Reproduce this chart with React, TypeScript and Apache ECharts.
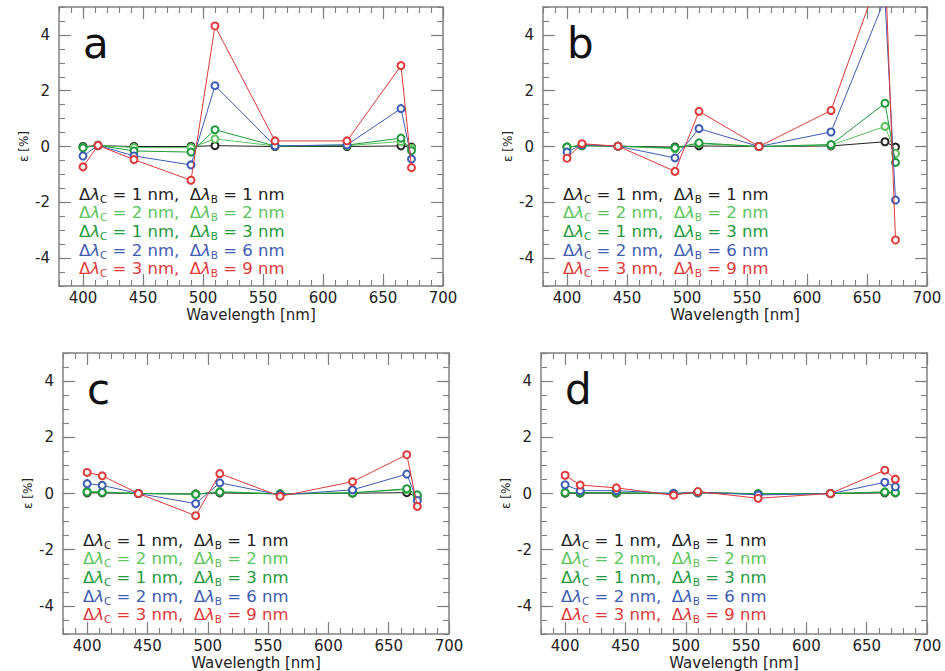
import React, { useEffect, useRef } from "react";
import * as echarts from "echarts";

const WAVELENGTHS = [400, 412.5, 442.5, 490, 510, 560, 620, 665, 673.75];
const X_MAJOR = [400, 450, 500, 550, 600, 650, 700];
const Y_MAJOR = [-4, -2, 0, 2, 4];
const PANEL_LETTERS = ["a", "b", "c", "d"];
const DELTA_C = [1, 2, 1, 2, 3];
const DELTA_B = [1, 2, 3, 6, 9];
const SERIES_COLORS = ["#222222", "#5cc45c", "#1f9a3c", "#3e5cb2", "#e03a3a"];

// panel a
const A_BLACK = [0, 0.03, 0, 0, 0.03, 0, 0, 0.02, -0.02];
const A_LGREEN = [-0.03, 0.04, -0.04, -0.04, 0.27, 0.02, 0.03, 0.18, -0.06];
const A_DGREEN = [-0.05, 0.04, -0.16, -0.2, 0.6, 0.02, 0.05, 0.3, -0.15];
const A_BLUE = [-0.34, 0.04, -0.34, -0.66, 2.18, 0.02, 0.06, 1.36, -0.45];
const A_RED = [-0.73, 0.04, -0.47, -1.21, 4.32, 0.2, 0.2, 2.9, -0.76];

// panel b
const B_BLACK = [-0.02, 0.03, 0.01, -0.02, 0.02, 0, 0.02, 0.17, -0.02];
const B_LGREEN = [-0.02, 0.04, 0.01, -0.08, 0.1, 0, 0.05, 0.72, -0.25];
const B_DGREEN = [-0.02, 0.03, 0.01, -0.05, 0.13, 0, 0.07, 1.55, -0.57];
const B_BLUE = [-0.2, 0.07, 0.01, -0.41, 0.64, 0, 0.52, 5.3, -1.92];
const B_RED = [-0.42, 0.1, 0.01, -0.89, 1.26, 0, 1.29, 6.7, -3.35];

// panel c
const C_BLACK = [0.02, 0.02, 0, -0.01, 0.02, -0.01, 0.01, 0.03, -0.12];
const C_LGREEN = [0.08, 0.06, 0, -0.02, 0.07, -0.01, 0.03, 0.14, -0.1];
const C_DGREEN = [0.05, 0.04, 0, -0.03, 0.05, -0.02, 0.02, 0.17, -0.05];
const C_BLUE = [0.35, 0.29, 0, -0.36, 0.38, -0.05, 0.13, 0.69, -0.25];
const C_RED = [0.75, 0.63, 0, -0.79, 0.71, -0.1, 0.42, 1.38, -0.46];

// panel d
const D_BLACK = [0.01, 0.01, 0.01, -0.01, 0.02, -0.01, 0, 0.02, 0.02];
const D_LGREEN = [0.04, 0.03, 0.03, -0.01, 0.04, -0.02, 0, 0.06, 0.04];
const D_DGREEN = [0.03, 0.03, 0.03, 0, 0.04, -0.01, 0, 0.05, 0.04];
const D_BLUE = [0.31, 0.1, 0.1, 0, 0.05, -0.05, -0.01, 0.4, 0.24];
const D_RED = [0.65, 0.3, 0.2, -0.06, 0.07, -0.17, 0, 0.83, 0.51];

const PANEL_DATA = [
  [A_BLACK, A_LGREEN, A_DGREEN, A_BLUE, A_RED],
  [B_BLACK, B_LGREEN, B_DGREEN, B_BLUE, B_RED],
  [C_BLACK, C_LGREEN, C_DGREEN, C_BLUE, C_RED],
  [D_BLACK, D_LGREEN, D_DGREEN, D_BLUE, D_RED],
];

const GRIDS = [
  { left: 59, top: 7, width: 384, height: 279 },
  { left: 543, top: 7, width: 384, height: 279 },
  { left: 63, top: 353, width: 386, height: 281 },
  { left: 541, top: 353, width: 386, height: 281 },
];

const FONT = "DejaVu Sans";
const FRAME = "#808080";

export default function App() {
  const ref = useRef<HTMLDivElement>(null);

  useEffect(() => {
    if (!ref.current) return;
    const chart = echarts.init(ref.current, undefined, { renderer: "svg" });

    const xAxes: any[] = [];
    const yAxes: any[] = [];
    const series: any[] = [];
    const graphics: any[] = [];

    GRIDS.forEach((g, i) => {
      const baseX = {
        gridIndex: i,
        type: "value",
        min: 380,
        max: 700,
        offset: 0,
        splitLine: { show: false },
      };
      const baseY = {
        gridIndex: i,
        type: "value",
        min: -5,
        max: 5,
        offset: 0,
        splitLine: { show: false },
      };
      ["bottom", "top"].forEach((pos) => {
        xAxes.push({
          ...baseX,
          position: pos,
          axisLine: { show: true, onZero: false, lineStyle: { color: FRAME, width: 1.5 } },
          axisTick: {
            show: true,
            inside: true,
            length: 12,
            customValues: X_MAJOR,
            lineStyle: { color: FRAME, width: 1.2 },
          },
          axisLabel: {
            show: pos === "bottom",
            customValues: X_MAJOR,
            fontSize: 15,
            color: "#222",
            fontFamily: FONT,
            margin: 4,
          },
          name: pos === "bottom" ? "Wavelength [nm]" : "",
          nameLocation: "middle",
          nameGap: 21,
          nameTextStyle: { fontSize: 15, color: "#222", fontFamily: FONT },
        });
        xAxes.push({
          ...baseX,
          position: pos,
          interval: 10,
          axisLine: { show: false, onZero: false },
          axisTick: { show: true, inside: true, length: 6, lineStyle: { color: FRAME, width: 1.1 } },
          axisLabel: { show: false },
        });
      });
      ["left", "right"].forEach((pos) => {
        yAxes.push({
          ...baseY,
          position: pos,
          axisLine: { show: true, onZero: false, lineStyle: { color: FRAME, width: 1.5 } },
          axisTick: {
            show: true,
            inside: true,
            length: 12,
            customValues: Y_MAJOR,
            lineStyle: { color: FRAME, width: 1.2 },
          },
          axisLabel: {
            show: pos === "left",
            customValues: Y_MAJOR,
            fontSize: 15,
            color: "#222",
            fontFamily: FONT,
            margin: 9,
          },
          name: pos === "left" ? "ε [%]" : "",
          nameLocation: "middle",
          nameRotate: 90,
          nameGap: 29,
          nameTextStyle: { fontSize: 12, color: "#222", fontFamily: FONT },
        });
        yAxes.push({
          ...baseY,
          position: pos,
          interval: 0.5,
          axisLine: { show: false, onZero: false },
          axisTick: { show: true, inside: true, length: 6, lineStyle: { color: FRAME, width: 1.1 } },
          axisLabel: { show: false },
        });
      });

      PANEL_DATA[i].forEach((vals, k) => {
        series.push({
          type: "line",
          xAxisIndex: i * 4,
          yAxisIndex: i * 4,
          data: WAVELENGTHS.map((w, j) => [w, vals[j]]),
          symbol: "emptyCircle",
          symbolSize: 7,
          showAllSymbol: true,
          clip: true,
          lineStyle: { color: SERIES_COLORS[k], width: 1 },
          itemStyle: { color: SERIES_COLORS[k], borderWidth: 0.9 },
          z: 2 + k,
        });
      });

      graphics.push({
        type: "text",
        x: g.left + 24,
        y: g.top + 36,
        style: {
          text: PANEL_LETTERS[i],
          fontSize: 42,
          fontFamily: FONT,
          fill: "#111",
          verticalAlign: "middle",
        },
      });

      DELTA_C.forEach((c, k) => {
        const col = SERIES_COLORS[k];
        graphics.push({
          type: "text",
          x: g.left + 20,
          y: g.top + 187 + k * 18.7,
          style: {
            text: `{d|Δ}{l|λ}{s|C}{t| = ${c} nm,  }{d|Δ}{l|λ}{s|B}{t| = ${DELTA_B[k]} nm}`,
            verticalAlign: "middle",
            fontFamily: FONT,
            fontSize: 16.5,
            fill: col,
            rich: {
              d: { fontSize: 16.5, fontFamily: FONT, fill: col },
              l: { fontSize: 16.5, fontFamily: FONT, fontStyle: "italic", fill: col },
              s: { fontSize: 10.5, fontFamily: FONT, fill: col, padding: [9, 0, 0, 0] },
              t: { fontSize: 16.5, fontFamily: FONT, fill: col },
            },
          },
        });
      });
    });

    chart.setOption({
      animation: false,
      backgroundColor: "#ffffff",
      grid: GRIDS.map((g) => ({ ...g, containLabel: false })),
      xAxis: xAxes,
      yAxis: yAxes,
      series,
      graphic: graphics,
    });

    return () => chart.dispose();
  }, []);

  return (
    <div
      ref={ref}
      style={{ position: "fixed", left: 0, top: 0, width: 945, height: 671 }}
    />
  );
}
